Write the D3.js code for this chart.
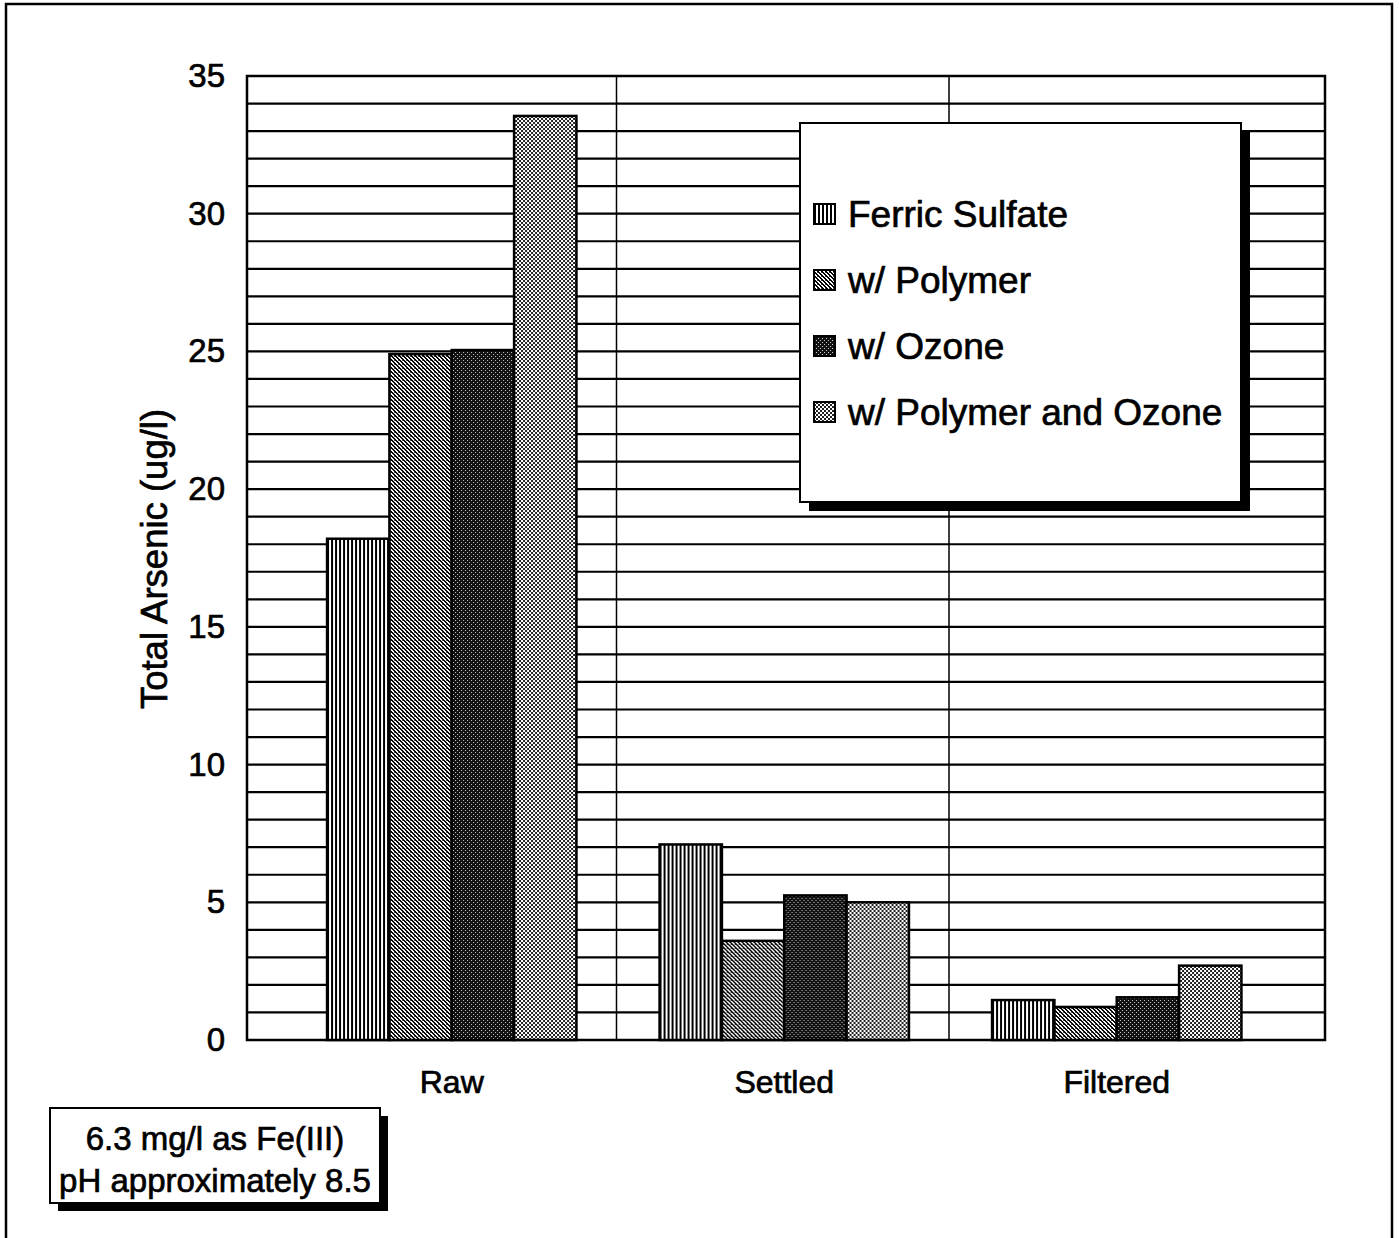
<!DOCTYPE html>
<html>
<head>
<meta charset="utf-8">
<script src="https://cdn.jsdelivr.net/npm/d3@7"></script>
<style>
	body { margin: 0; background: #fff; }
	text { font-family: "Liberation Sans", Arial, sans-serif; fill: #000; stroke: #000; stroke-width: 0.7px; }
</style>
</head>
<body>
<div id="chart"></div>
<script>

var categories = ["Raw", "Settled", "Filtered"];
var seriesNames = ["Ferric Sulfate", "w/ Polymer", "w/ Ozone", "w/ Polymer and Ozone"];
var ferricSulfate   = [18.2, 7.1, 1.45];
var withPolymer     = [24.9, 3.6, 1.2];
var withOzone       = [25.05, 5.25, 1.55];
var withPolymerOzone = [33.55, 5.0, 2.7];
var yTicks = [0, 5, 10, 15, 20, 25, 30, 35];
var noteLines = ["6.3 mg/l as Fe(III)", "pH approximately 8.5"];

var seriesValues = [ferricSulfate, withPolymer, withOzone, withPolymerOzone];
var patternIds = ["pFerric", "pPolymer", "pOzone", "pPolyOzone"];

var W = 1399, H = 1238;
var plot = { left: 247, right: 1325, top: 76, bottom: 1040 };

var svg = d3.select("#chart")
	.append("svg")
	.attr("width", W)
	.attr("height", H)
	.style("display", "block");

svg.append("rect")
	.attr("width", W)
	.attr("height", H)
	.attr("fill", "#fff");

// fill patterns, roughly what the printed hatches look like
var defs = svg.append("defs");

var pf = defs.append("pattern").attr("id", "pFerric")
	.attr("patternUnits", "userSpaceOnUse").attr("width", 4).attr("height", 4);
pf.append("rect").attr("width", 4).attr("height", 4).attr("fill", "#fff");
pf.append("rect").attr("width", 2).attr("height", 4).attr("fill", "#000");

var pp = defs.append("pattern").attr("id", "pPolymer")
	.attr("patternUnits", "userSpaceOnUse").attr("width", 4).attr("height", 4);
pp.append("rect").attr("width", 4).attr("height", 4).attr("fill", "#fff");
[[0,0],[1,0],[1,1],[2,1],[2,2],[3,2],[3,3],[0,3]].forEach(function(d) {
	pp.append("rect").attr("x", d[0]).attr("y", d[1]).attr("width", 1).attr("height", 1).attr("fill", "#000");
});
pp.append("rect").attr("x", 3).attr("y", 0).attr("width", 1).attr("height", 1).attr("fill", "#555");

var po = defs.append("pattern").attr("id", "pOzone")
	.attr("patternUnits", "userSpaceOnUse").attr("width", 4).attr("height", 4);
po.append("rect").attr("width", 4).attr("height", 4).attr("fill", "#111");
po.append("rect").attr("x", 0).attr("y", 0).attr("width", 1).attr("height", 1).attr("fill", "#ccc");
po.append("rect").attr("x", 2).attr("y", 2).attr("width", 1).attr("height", 1).attr("fill", "#ccc");

var ppo = defs.append("pattern").attr("id", "pPolyOzone")
	.attr("patternUnits", "userSpaceOnUse").attr("width", 4).attr("height", 4);
ppo.append("rect").attr("width", 4).attr("height", 4).attr("fill", "#fff");
ppo.append("rect").attr("x", 0).attr("y", 0).attr("width", 2).attr("height", 2).attr("fill", "#222");
ppo.append("rect").attr("x", 2).attr("y", 2).attr("width", 2).attr("height", 2).attr("fill", "#222");

// outer frame of the page (bottom edge runs off the scan)
svg.append("path")
	.attr("d", "M6," + (H + 5) + "V4H1392V" + (H + 5))
	.attr("fill", "none")
	.attr("stroke", "#000")
	.attr("stroke-width", 2.5);

var y = d3.scaleLinear()
	.domain([0, 35])
	.range([plot.bottom, plot.top]);

var x0 = d3.scaleBand()
	.domain(categories)
	.range([285.5, 1283])
	.paddingInner(0.25)
	.paddingOuter(0.125);

var x1 = d3.scaleBand()
	.domain(seriesNames)
	.range([0, x0.bandwidth()]);

// horizontal grid, one line per unit
svg.append("g")
	.selectAll("line")
	.data(d3.range(1, 35))
	.enter().append("line")
	.attr("x1", plot.left)
	.attr("x2", plot.right)
	.attr("y1", function(d) { return y(d); })
	.attr("y2", function(d) { return y(d); })
	.attr("stroke", "#000")
	.attr("stroke-width", 2.2);

// vertical dividers between categories
svg.append("g")
	.selectAll("line")
	.data(categories.slice(1))
	.enter().append("line")
	.attr("x1", function(d) { return x0(d) - x0.step() * x0.paddingInner() / 2 - 1.5; })
	.attr("x2", function(d) { return x0(d) - x0.step() * x0.paddingInner() / 2 - 1.5; })
	.attr("y1", plot.top)
	.attr("y2", plot.bottom)
	.attr("stroke", "#000")
	.attr("stroke-width", 1.5);

svg.append("rect")
	.attr("x", plot.left)
	.attr("y", plot.top)
	.attr("width", plot.right - plot.left)
	.attr("height", plot.bottom - plot.top)
	.attr("fill", "none")
	.attr("stroke", "#000")
	.attr("stroke-width", 2.5);

// bars
var groups = svg.append("g")
	.selectAll("g")
	.data(categories)
	.enter().append("g")
	.attr("transform", function(d) { return "translate(" + x0(d) + ",0)"; });

groups.selectAll("rect")
	.data(function(c, ci) {
		return seriesNames.map(function(s, si) {
			return { series: s, value: seriesValues[si][ci], pat: patternIds[si] };
		});
	})
	.enter().append("rect")
	.attr("x", function(d) { return x1(d.series); })
	.attr("y", function(d) { return y(d.value); })
	.attr("width", x1.bandwidth())
	.attr("height", function(d) { return y(0) - y(d.value); })
	.attr("fill", function(d) { return "url(#" + d.pat + ")"; })
	.attr("stroke", "#000")
	.attr("stroke-width", 2.5);

// y axis labels
var yAxis = d3.axisLeft(y)
	.tickValues(yTicks)
	.tickSize(0)
	.tickPadding(22);

svg.append("g")
	.attr("transform", "translate(" + plot.left + ",0)")
	.call(yAxis)
	.call(function(g) { g.select(".domain").remove(); })
	.selectAll("text")
	.style("font-family", "'Liberation Sans', Arial, sans-serif")
	.style("font-size", "33px")
	.attr("fill", "#000");

// category labels
var xAxis = d3.axisBottom(x0)
	.tickSize(0)
	.tickPadding(0);

svg.append("g")
	.attr("transform", "translate(0," + plot.bottom + ")")
	.call(xAxis)
	.call(function(g) { g.select(".domain").remove(); })
	.selectAll("text")
	.attr("y", 42)
	.attr("dy", "0.35em")
	.style("font-family", "'Liberation Sans', Arial, sans-serif")
	.style("font-size", "32px")
	.attr("fill", "#000");

svg.append("text")
	.attr("transform", "translate(167,559) rotate(-90)")
	.attr("text-anchor", "middle")
	.style("font-size", "36.5px")
	.text("Total Arsenic (ug/l)");

// legend with drop shadow
var lg = { x: 800, y: 123, w: 441, h: 379 };

svg.append("rect")
	.attr("x", lg.x + 9)
	.attr("y", lg.y + 9)
	.attr("width", lg.w)
	.attr("height", lg.h)
	.attr("fill", "#000");

svg.append("rect")
	.attr("x", lg.x)
	.attr("y", lg.y)
	.attr("width", lg.w)
	.attr("height", lg.h)
	.attr("fill", "#fff")
	.attr("stroke", "#000")
	.attr("stroke-width", 2);

var items = svg.append("g")
	.selectAll("g")
	.data(seriesNames)
	.enter().append("g")
	.attr("transform", function(d, i) { return "translate(" + (lg.x + 14) + "," + (214 + i * 66) + ")"; });

items.append("rect")
	.attr("x", 0)
	.attr("y", -10)
	.attr("width", 21)
	.attr("height", 20)
	.attr("fill", function(d, i) { return "url(#" + patternIds[i] + ")"; })
	.attr("stroke", "#000")
	.attr("stroke-width", 2);

items.append("text")
	.attr("x", 34)
	.attr("dy", "0.35em")
	.style("font-size", "37px")
	.text(function(d) { return d; });

// note box, bottom left
var nb = { x: 50, y: 1108, w: 330, h: 95 };

svg.append("rect")
	.attr("x", nb.x + 8)
	.attr("y", nb.y + 8)
	.attr("width", nb.w)
	.attr("height", nb.h)
	.attr("fill", "#000");

svg.append("rect")
	.attr("x", nb.x)
	.attr("y", nb.y)
	.attr("width", nb.w)
	.attr("height", nb.h)
	.attr("fill", "#fff")
	.attr("stroke", "#000")
	.attr("stroke-width", 2);

svg.append("g")
	.selectAll("text")
	.data(noteLines)
	.enter().append("text")
	.attr("x", nb.x + nb.w / 2)
	.attr("y", function(d, i) { return 1150 + i * 42; })
	.attr("text-anchor", "middle")
	.style("font-size", "33px")
	.text(function(d) { return d; });

</script>
</body>
</html>
